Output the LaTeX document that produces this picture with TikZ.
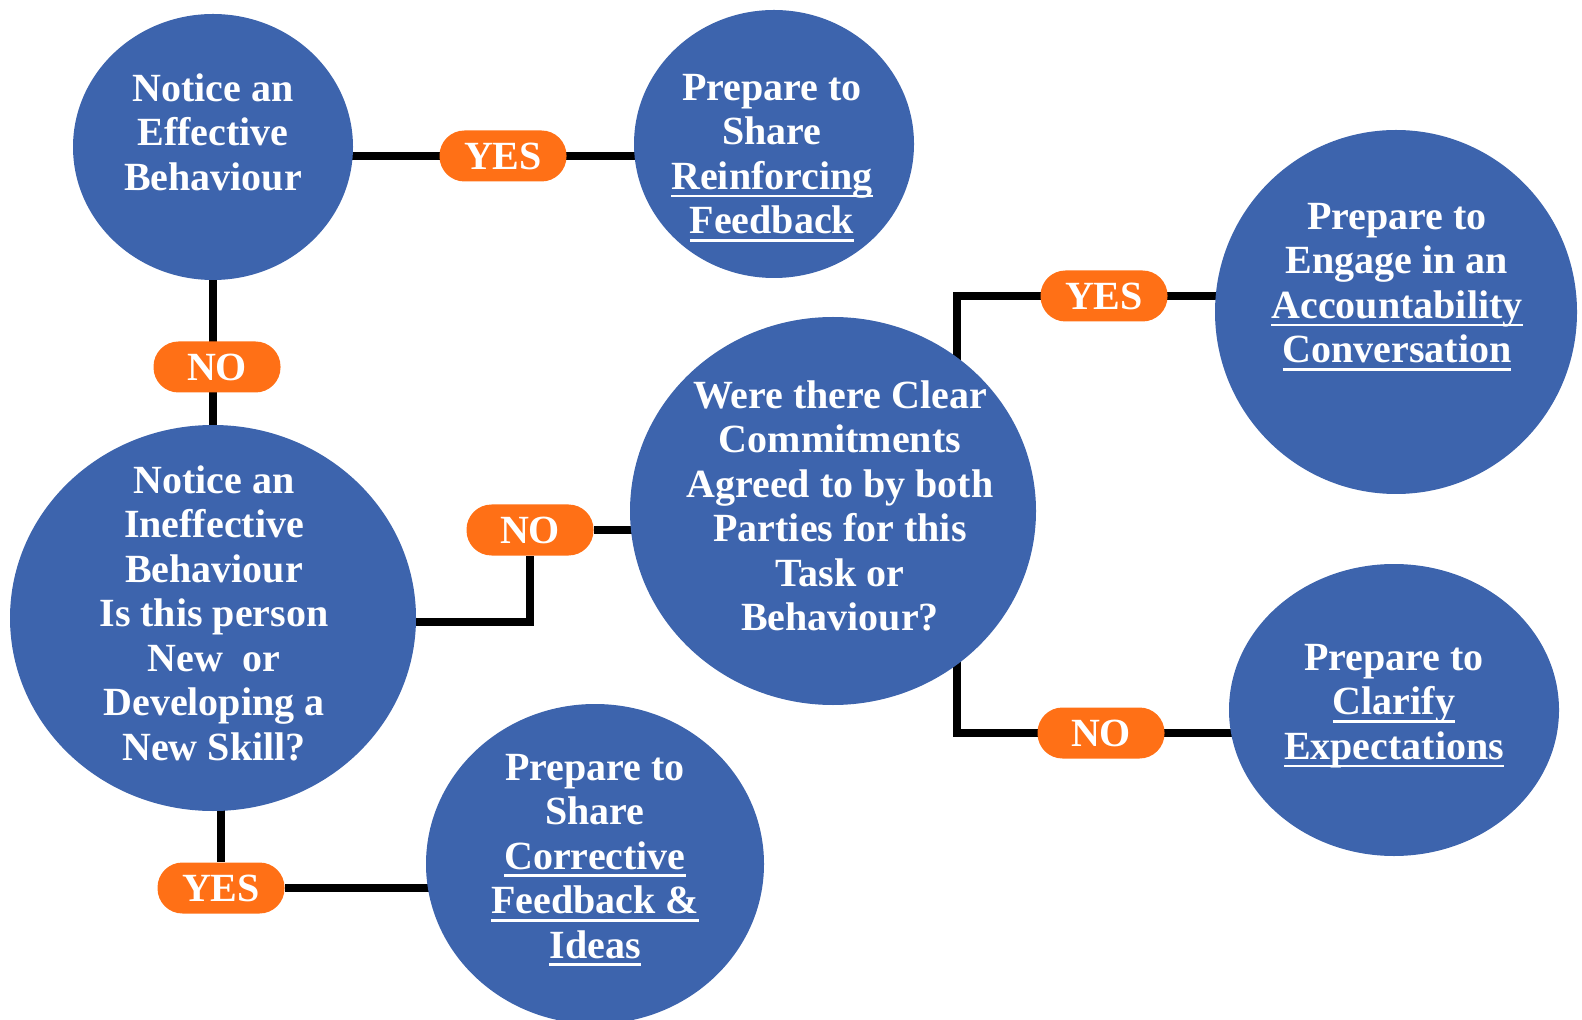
\documentclass[tikz,border=0pt]{standalone}
\usepackage{fontspec}
\setmainfont{Liberation Serif}
\usetikzlibrary{shapes.geometric,backgrounds}
\definecolor{blobblue}{RGB}{61,100,173}
\definecolor{pillorange}{RGB}{255,112,22}
\newcommand{\ulword}[1]{\leavevmode\setbox0\hbox{#1}\rlap{\rule[-3.9pt]{\wd0}{1.3pt}}\box0}

\begin{document}
\begin{tikzpicture}[x=0.5pt, y=-0.5pt,
  every node/.style={font=\fontsize{20}{22.25}\selectfont\bfseries, text=white},
  blob/.style={ellipse, fill=blobblue, inner sep=0pt},
  pill/.style={fill=pillorange, rounded corners=12.5pt, minimum width=63.5pt, minimum height=25.5pt, inner sep=0pt},
  words/.style={align=center, inner sep=0pt},
  link/.style={line width=3.7pt}]
  \useasboundingbox (0,0) rectangle (1582,1020);
  \clip (0,0) rectangle (1582,1020);
  \node[blob, minimum width=140pt, minimum height=133pt] (effective) at (213,147) {};
  \node[blob, minimum width=140pt, minimum height=134pt] (reinforce) at (774,144) {};
  \node[blob, minimum width=203pt, minimum height=193pt] (ineffective) at (213,618) {};
  \node[blob, minimum width=203pt, minimum height=194pt] (commit) at (833,511) {};
  \node[blob, minimum width=181pt, minimum height=182pt] (account) at (1396,312) {};
  \node[blob, minimum width=165pt, minimum height=146pt] (clarify) at (1394,710) {};
  \node[blob, minimum width=169pt, minimum height=160pt] (corrective) at (595,864) {};
  \coordinate (fork) at (957,511);

  \node[words] (effective-t) at (213,132) {Notice an\\Effective\\Behaviour};
  \node[words] (reinforce-t) at (772,158) {Prepare to\\Share\\\ulword{Reinforcing}\\\ulword{Feedback}};
  \node[words] (ineffective-t) at (214,613) {Notice an\\Ineffective\\Behaviour\\Is this person\\New\ \ or\\Developing a\\New Skill?};
  \node[words] (commit-t) at (840,506) {Were there Clear\\Commitments\\Agreed to by both\\Parties for this\\Task or\\Behaviour?};
  \node[words] (account-t) at (1397,287) {Prepare to\\Engage in an\\\ulword{Accountability}\\\ulword{Conversation}};
  \node[words] (clarify-t) at (1394,706) {Prepare to\\\ulword{Clarify}\\\ulword{Expectations}};
  \node[words] (corrective-t) at (595,860) {Prepare to\\Share\\\ulword{Corrective}\\\ulword{Feedback \&}\\\ulword{Ideas}};

  \node[pill] (yes1) at (503,156) {YES};
  \node[pill] (no1) at (217,367) {NO};
  \node[pill] (no2) at (530,530) {NO};
  \node[pill] (yes2) at (1104,296) {YES};
  \node[pill] (no3) at (1101,733) {NO};
  \node[pill] (yes3) at (221,888) {YES};

  \begin{scope}[on background layer]
    \draw[link] (effective |- yes1) -- (reinforce |- yes1);
    \draw[link] (effective) -- (ineffective);
    \draw[link] ([yshift=-2pt]ineffective.center) -| (no2) -- (no2 -| commit);
    \draw[link] (account |- yes2) -- (fork |- yes2) -- (fork |- no3) -- (clarify |- no3);
    \draw[link] (ineffective) -| (yes3) -- (yes3 -| corrective);
  \end{scope}
\end{tikzpicture}
\end{document}
